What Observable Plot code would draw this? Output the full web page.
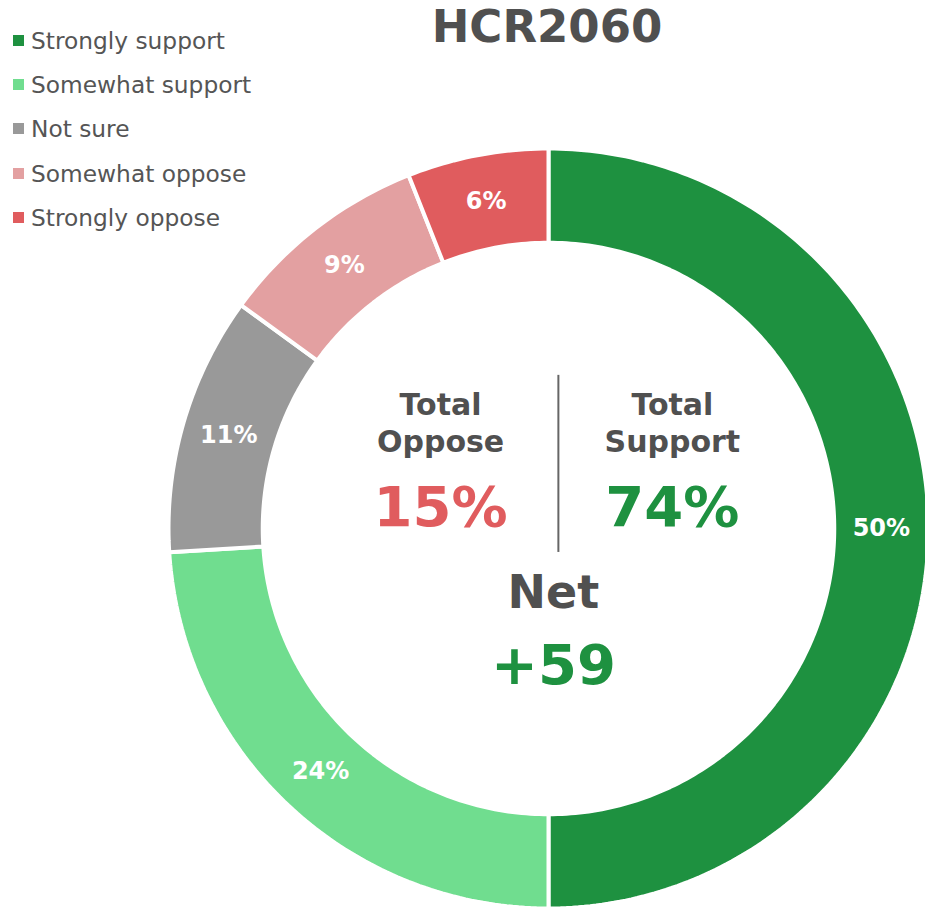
<!DOCTYPE html>
<html>
<head>
<meta charset="utf-8">
<script src="https://cdn.jsdelivr.net/npm/d3@7"></script>
<script src="https://cdn.jsdelivr.net/npm/@observablehq/plot@0.6"></script>
<style>
  body { margin: 0; background: #fff; }
  #wrap { position: relative; width: 925px; height: 908px; font-family: "DejaVu Sans", Verdana, sans-serif; }
  #legend { position: absolute; left: 13px; top: 18px; }
  .row { display: flex; align-items: center; height: 44.3px; font-size: 23.3px; color: #555; }
  .sw { width: 11px; height: 11px; margin-right: 7px; }
</style>
</head>
<body>
<div id="wrap"></div>
<script>
const title = "HCR2060";
const categories = ["Strongly support", "Somewhat support", "Not sure", "Somewhat oppose", "Strongly oppose"];
const values = [50, 24, 11, 9, 6];
const sliceLabels = ["50%", "24%", "11%", "9%", "6%"];
const colors = ["#1e9140", "#70dd8f", "#999999", "#e3a0a1", "#e05c5e"];
const centerHeads = ["Total\nOppose", "Total\nSupport"];
const centerValues = ["15%", "74%"];
const netLabel = "Net";
const netValue = "+59";

const W = 925, H = 908;
const cx = 548, cy = 528, unit = 380;
const rOuter = 1, rInner = 0.752;

// build donut polygons from the values
const total = d3.sum(values);
const polys = [];
const centroids = [];
let cum = 0;
values.forEach((v, i) => {
  const a0 = cum / total * 2 * Math.PI, a1 = (cum + v) / total * 2 * Math.PI;
  const n = Math.max(4, Math.ceil(v * 4));
  const pts = [];
  for (let k = 0; k <= n; k++) { const a = a0 + (a1 - a0) * k / n; pts.push([rOuter * Math.sin(a), rOuter * Math.cos(a)]); }
  for (let k = n; k >= 0; k--) { const a = a0 + (a1 - a0) * k / n; pts.push([rInner * Math.sin(a), rInner * Math.cos(a)]); }
  pts.push(pts[0]);
  pts.forEach(p => polys.push({key: categories[i], x: p[0], y: p[1]}));
  const am = (a0 + a1) / 2, rm = (rOuter + rInner) / 2;
  centroids.push({label: sliceLabels[i], x: rm * Math.sin(am), y: rm * Math.cos(am)});
  cum += v;
});

const colX = [-0.284, 0.326];
const heads = centerHeads.map((t, i) => ({t, x: colX[i], y: 0.281}));
const vals = centerValues.map((t, i) => ({t, x: colX[i], y: 0.055, c: i === 0 ? colors[4] : colors[0]}));

const plot = Plot.plot({
  width: W, height: H,
  margin: 0,
  x: {domain: [-cx / unit, (W - cx) / unit], axis: null},
  y: {domain: [-(H - cy) / unit, cy / unit], axis: null},
  color: {domain: categories, range: colors},
  style: {fontFamily: '"DejaVu Sans", Verdana, sans-serif', background: "transparent", overflow: "visible"},
  marks: [
    Plot.line(polys, {x: "x", y: "y", z: "key", fill: "key", stroke: "white", strokeWidth: 4, strokeLinejoin: "miter", curve: "linear"}),
    Plot.text(centroids, {x: "x", y: "y", text: "label", fill: "white", fontWeight: "bold", fontSize: 24}),
    Plot.text([title], {frameAnchor: "top", dy: 10, dx: 84, fontSize: 45, fontWeight: "bold", fill: "#505050"}),
    Plot.text(heads, {x: "x", y: "y", text: "t", fontSize: 30, fontWeight: "bold", fill: "#505050", lineHeight: 1.22}),
    Plot.text(vals, {x: "x", y: "y", text: "t", fontSize: 56, fontWeight: "bold", fill: d => d.c}),
    Plot.ruleX([0.026], {y1: 0.403, y2: -0.063, stroke: "#666", strokeWidth: 2}),
    Plot.text([netLabel], {x: 0.013, y: -0.171, text: d => d, fontSize: 46, fontWeight: "bold", fill: "#505050"}),
    Plot.text([netValue], {x: 0.013, y: -0.361, text: d => d, fontSize: 56, fontWeight: "bold", fill: colors[0]})
  ]
});

const wrap = document.getElementById("wrap");
wrap.appendChild(plot);
const legend = document.createElement("div");
legend.id = "legend";
categories.forEach((c, i) => {
  const row = document.createElement("div");
  row.className = "row";
  const sw = document.createElement("span");
  sw.className = "sw";
  sw.style.background = colors[i];
  const tx = document.createElement("span");
  tx.textContent = c;
  row.appendChild(sw); row.appendChild(tx);
  legend.appendChild(row);
});
wrap.appendChild(legend);
</script>
</body>
</html>
